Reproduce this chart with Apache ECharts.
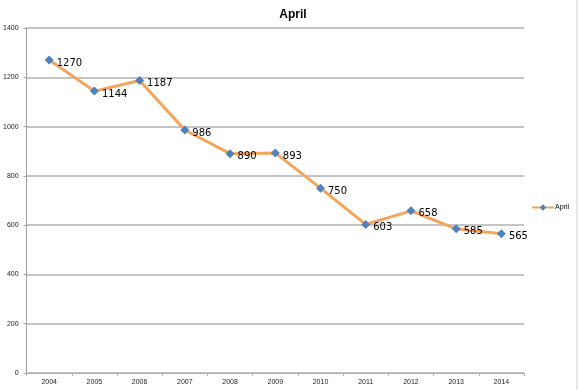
<!DOCTYPE html>
<html><head><meta charset="utf-8">
<script src="https://cdn.jsdelivr.net/npm/echarts@6/dist/echarts.min.js"></script>
<style>html,body{margin:0;padding:0;background:#fff}#c{width:578px;height:390px}</style>
</head><body><div id="c"></div>
<script>
const categories = ['2004','2005','2006','2007','2008','2009','2010','2011','2012','2013','2014'];
const aprilValues = [1270,1144,1187,986,890,893,750,603,658,585,565];
const yTicks = [0,200,400,600,800,1000,1200,1400];

const chart = echarts.init(document.getElementById('c'));
chart.setOption({
  animation: false,
  backgroundColor: '#fff',
  title: {text: 'April', left: 288, top: 4, textAlign: 'center',
    textStyle: {fontFamily: 'Liberation Sans', fontSize: 12, fontWeight: 'bold', color: '#000'}},
  legend: {right: 4, top: 199, itemWidth: 22, itemHeight: 8, itemGap: 2,
    textStyle: {fontFamily: 'Liberation Sans', fontSize: 7, color: '#000', padding: [0,0,0,-4]},
    data: ['April']},
  graphic: [{type: 'line', shape: {x1: 577, y1: 0, x2: 577, y2: 390},
    style: {stroke: '#cfcfcf', lineWidth: 1}}],
  grid: {left: 26, right: 54, top: 28, bottom: 17, containLabel: false},
  xAxis: {type: 'category', data: categories, boundaryGap: true,
    axisLine: {lineStyle: {color: '#b0b0b0', width: 1}},
    axisTick: {show: true, interval: 0, length: 3, lineStyle: {color: '#b0b0b0'}},
    axisLabel: {fontFamily: 'Liberation Sans', fontSize: 7, color: '#222', margin: 6}},
  yAxis: {type: 'value', min: 0, max: 1400, interval: 200,
    axisLine: {show: true, lineStyle: {color: '#a0a0a0', width: 1}},
    axisTick: {show: true, length: 3, lineStyle: {color: '#a0a0a0'}},
    splitLine: {lineStyle: {color: '#c4c4c4', width: 2}},
    axisLabel: {fontFamily: 'Liberation Sans', fontSize: 7, color: '#222', margin: 8,
      formatter: v => yTicks.includes(v) ? String(v) : ''}},
  series: [{
    name: 'April', type: 'line', data: aprilValues,
    symbol: 'diamond', symbolSize: 9,
    itemStyle: {color: '#4f81bd'},
    lineStyle: {color: '#f5a55a', width: 3},
    label: {show: true, position: 'right', distance: 3, offset: [0, 3],
      fontFamily: 'DejaVu Sans', fontSize: 10, color: '#000'}
  }]
});
</script></body></html>
